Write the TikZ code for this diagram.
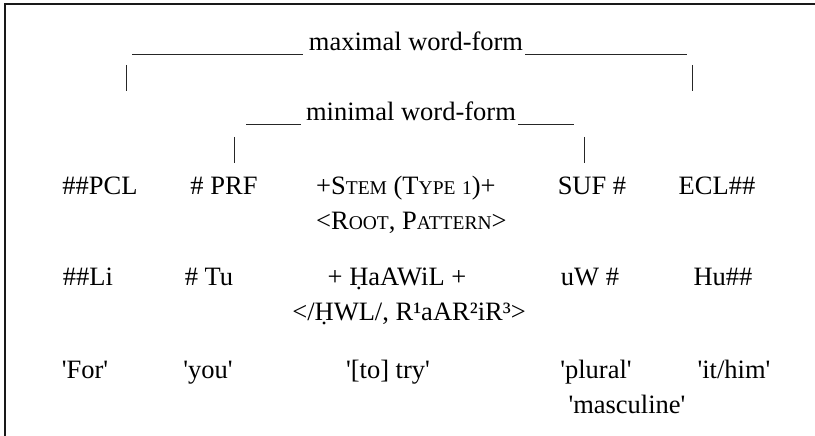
\documentclass[tikz,border=0pt]{standalone}
\usepackage{fontspec}
\setmainfont{Liberation Serif}
\newcommand\mysc[1]{{\fontsize{19.5}{20}\selectfont #1}}
\newcommand\sq{\textquotesingle}
\begin{document}
\begin{tikzpicture}[x=1pt,y=-1pt,
  lbl/.style={inner sep=0pt, anchor=base, font=\fontsize{26.5}{30}\selectfont},
  lblw/.style={lbl, anchor=base west},
  rule/.style={line width=0.9pt, black!85},
  bar/.style={line width=1pt, black!85},
  frame/.style={line width=2.2pt, black!90}]
\useasboundingbox (0,0) rectangle (815,436);
\draw[frame] (5,436) -- (5,4) -- (815,4);
% headings
\node[lbl] (maxw) at (416,51) {maximal word-form};
\draw[rule] (maxw.base west) ++(-6,3) -- ++(-171,0);
\draw[rule] (maxw.base east) ++(2,3) -- ++(162,0);
\coordinate (mxlt) at (126,65); \coordinate (mxlb) at (126,91);
\coordinate (mxrt) at (692,65); \coordinate (mxrb) at (692,91);
\draw[bar] (mxlt) -- (mxlb);
\draw[bar] (mxrt) -- (mxrb);
\node[lbl] (minw) at (411,121) {minimal word-form};
\draw[rule] (minw.base west) ++(-5,3) -- ++(-55,0);
\draw[rule] (minw.base east) ++(2,3) -- ++(56,0);
\coordinate (mnlt) at (234,137); \coordinate (mnlb) at (234,163);
\coordinate (mnrt) at (584,137); \coordinate (mnrb) at (584,163);
\draw[bar] (mnlt) -- (mnlb);
\draw[bar] (mnrt) -- (mnrb);
% row 1
\node[lbl] (pcl) at (100,194) {\#\#PCL};
\node[lbl] (prf) at (224,194) {\# PRF};
\node[lblw] (stem) at (316,194) {+S\mysc{TEM} (T\mysc{YPE} \mysc{1})+};
\node[lblw] (root) at (316,229) {<R\mysc{OOT}, P\mysc{ATTERN}>};
\node[lbl] (suf) at (592,194) {SUF \#};
\node[lbl] (ecl) at (717,194) {ECL\#\#};
% row 2
\node[lbl] (li) at (88,285) {\#\#Li};
\node[lbl] (tu) at (209,285) {\# Tu};
\node[lbl] (haawil) at (397,285) {+ ḤaAWiL +};
\node[lbl] (hwl) at (409,320) {</ḤWL/, R¹aAR²iR³>};
\node[lbl] (uw) at (590,285) {uW \#};
\node[lbl] (hu) at (723,285) {Hu\#\#};
% row 3
\node[lbl] (for) at (85,378) {\sq For\sq};
\node[lbl] (you) at (208,378) {\sq you\sq};
\node[lbl] (try) at (388,378) {\sq[to] try\sq};
\node[lbl] (plural) at (596,378) {\sq plural\sq};
\node[lbl] (him) at (734,378) {\sq it/him\sq};
\node[lbl] (masc) at (627,413) {\sq masculine\sq};
\end{tikzpicture}
\end{document}
